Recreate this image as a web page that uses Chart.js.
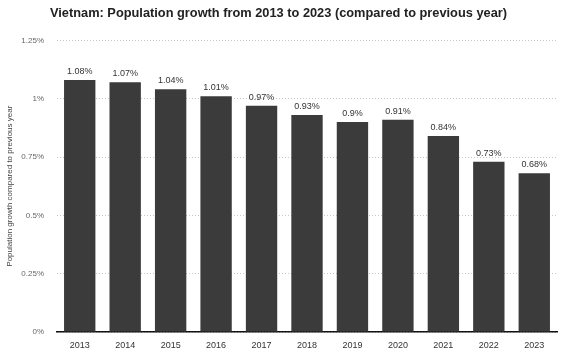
<!DOCTYPE html>
<html>
<head>
<meta charset="utf-8">
<script src="https://cdn.jsdelivr.net/npm/chart.js@4"></script>
<style>
html,body{margin:0;padding:0;background:#fff;}
#wrap{width:561px;height:356px;}
</style>
</head>
<body>
<div id="wrap"><canvas id="c" width="561" height="356"></canvas></div>
<script>
const categories = ['2013','2014','2015','2016','2017','2018','2019','2020','2021','2022','2023'];
const growthValues = [1.08, 1.07, 1.04, 1.01, 0.97, 0.93, 0.9, 0.91, 0.84, 0.73, 0.68];
const yTickValues = [0, 0.25, 0.5, 0.75, 1, 1.25];
const titleText = 'Vietnam: Population growth from 2013 to 2023 (compared to previous year)';
const yAxisTitle = 'Population growth compared to previous year';

const FONT = '"Liberation Sans", Arial, Helvetica, sans-serif';

const valueLabels = {
  id: 'valueLabels',
  afterDatasetsDraw(chart) {
    const ctx = chart.ctx;
    const meta = chart.getDatasetMeta(0);
    ctx.save();
    ctx.font = '9px ' + FONT;
    ctx.fillStyle = '#333';
    ctx.textAlign = 'center';
    ctx.textBaseline = 'bottom';
    meta.data.forEach((bar, i) => {
      ctx.fillText(growthValues[i] + '%', bar.x, bar.y - 4);
    });
    ctx.restore();
  }
};

new Chart(document.getElementById('c'), {
  type: 'bar',
  data: {
    labels: categories,
    datasets: [{
      data: growthValues,
      backgroundColor: '#3b3b3b',
      borderWidth: 0,
      categoryPercentage: 1,
      barPercentage: 0.69
    }]
  },
  options: {
    responsive: false,
    devicePixelRatio: 1,
    animation: false,
    layout: { padding: { left: 0, right: 4, top: 0, bottom: 0 } },
    plugins: {
      legend: { display: false },
      tooltip: { enabled: false },
      title: {
        display: true,
        text: titleText,
        color: '#222',
        font: { family: FONT, size: 12.8, weight: 'bold' },
        padding: { top: 6, bottom: 19 }
      }
    },
    scales: {
      x: {
        grid: { display: false, drawTicks: false },
        border: { display: true, color: '#111', width: 1.5 },
        ticks: { color: '#333', font: { family: FONT, size: 9 }, padding: 8, maxRotation: 0 },
        afterFit(scale) { scale.height = 24; }
      },
      y: {
        min: 0,
        max: 1.25,
        afterBuildTicks(scale) { scale.ticks = yTickValues.map(v => ({ value: v })); },
        grid: { color: '#c8c8c8', borderDash: [1, 2], drawTicks: false, lineWidth: 1 },
        border: { display: false, dash: [1, 2] },
        ticks: {
          color: '#666',
          font: { family: FONT, size: 8 },
          padding: 13,
          callback: v => (+v.toFixed(2)) + '%'
        },
        title: {
          display: true,
          text: yAxisTitle,
          color: '#444',
          font: { family: FONT, size: 8 },
          padding: { top: 5, bottom: 0 }
        },
        afterFit(scale) { scale.width = 57; }
      }
    }
  },
  plugins: [valueLabels]
});
</script>
</body>
</html>
